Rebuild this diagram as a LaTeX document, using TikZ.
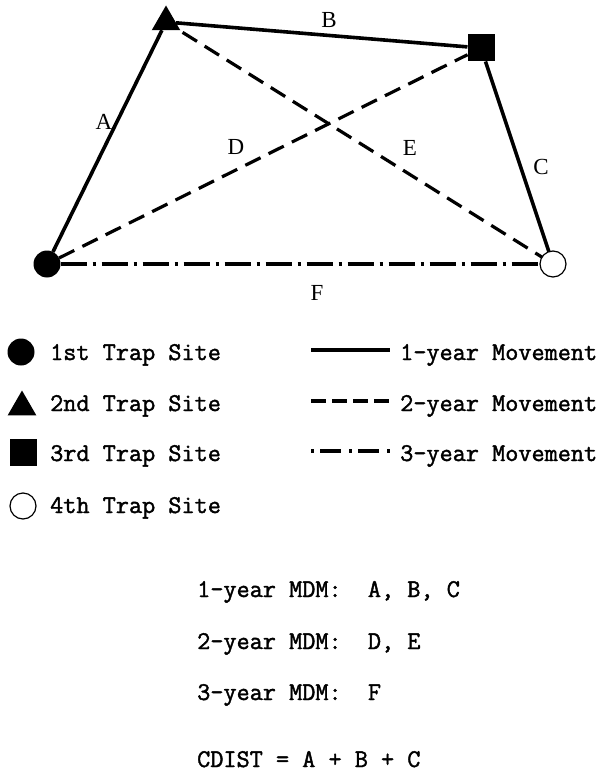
\documentclass[tikz,border=0pt]{standalone}
\usepackage{fontspec}
\setmainfont{Liberation Serif}
\setmonofont[FakeBold=1.6]{Latin Modern Mono}
\usetikzlibrary{shapes.geometric}
\begin{document}
\begin{tikzpicture}[x=1pt,y=-1pt,
  site/.style={inner sep=0pt, outer sep=0pt},
  fcirc/.style={site, circle, fill=black, minimum size=27pt},
  ocirc/.style={site, circle, draw=black, line width=1.2pt, fill=white, minimum size=26pt},
  tri/.style={site, regular polygon, regular polygon sides=3, fill=black, minimum size=33pt},
  sq/.style={site, rectangle, fill=black, minimum size=27pt},
  one/.style={line width=3.6pt},
  two/.style={line width=3.2pt, dash pattern=on 17pt off 9pt},
  three/.style={line width=3.4pt, dash pattern=on 26pt off 6pt on 3pt off 6pt},
  lab/.style={font=\fontsize{23}{27}\selectfont, inner sep=0pt},
  txt/.style={font=\ttfamily\fontsize{25.5}{30}\selectfont, anchor=base west, inner sep=0pt},
]
\fill[white] (0,0) rectangle (605,778);
\useasboundingbox (0,0) rectangle (605,778);

% trap sites
\node[fcirc] (s1) at (47,264) {};
\node[tri] (s2) at (166,22) {};
\node[sq] (s3) at (481,48) {};
\node[ocirc] (s4) at (553,264) {};

% movements
\draw[one] (s1) -- (s2);
\draw[one] (s2) -- (s3);
\draw[one] (s3) -- (s4);
\draw[two] (s1) -- (s3);
\draw[two, shorten <=4pt] (s2) -- (s4);
\draw[three] (s1) -- (s4);

% labels
\node[lab] (lA) at (104,122) {A};
\node[lab] (lB) at (329,20) {B};
\node[lab] (lC) at (541,167) {C};
\node[lab] (lD) at (236,147) {D};
\node[lab] (lE) at (410,148) {E};
\node[lab] (lF) at (317,293) {F};

% legend symbols
\node[fcirc] (k1) at (21,352) {};
\node[tri, minimum size=33pt] (k2) at (22,407) {};
\node[sq] (k3) at (23,452) {};
\node[ocirc] (k4) at (23,506) {};

\node[txt] (t1) at (50,360) {1st Trap Site};
\node[txt] (t2) at (50,411) {2nd Trap Site};
\node[txt] (t3) at (50,461) {3rd Trap Site};
\node[txt] (t4) at (50,513) {4th Trap Site};

% legend lines
\coordinate (m1a) at (311,350); \coordinate (m1b) at (390,350);
\coordinate (m2a) at (311,401); \coordinate (m2b) at (390,401);
\coordinate (m3a) at (311,451); \coordinate (m3b) at (390,451);
\draw[one] (m1a) -- (m1b);
\draw[line width=3.2pt, dash pattern=on 15pt off 6pt] (m2a) -- (m2b);
\draw[line width=3.2pt, dash pattern=on 3pt off 6pt on 21pt off 8pt] (m3a) -- (m3b);

\node[txt] (u1) at (400,360) {1-year Movement};
\node[txt] (u2) at (400,411) {2-year Movement};
\node[txt] (u3) at (400,461) {3-year Movement};

% summary
\node[txt] (r1) at (197,597) {1-year MDM:~~A, B, C};
\node[txt] (r2) at (197,649) {2-year MDM:~~D, E};
\node[txt] (r3) at (197,700) {3-year MDM:~~F};
\node[txt] (r4) at (197,767) {CDIST = A + B + C};
\end{tikzpicture}
\end{document}
